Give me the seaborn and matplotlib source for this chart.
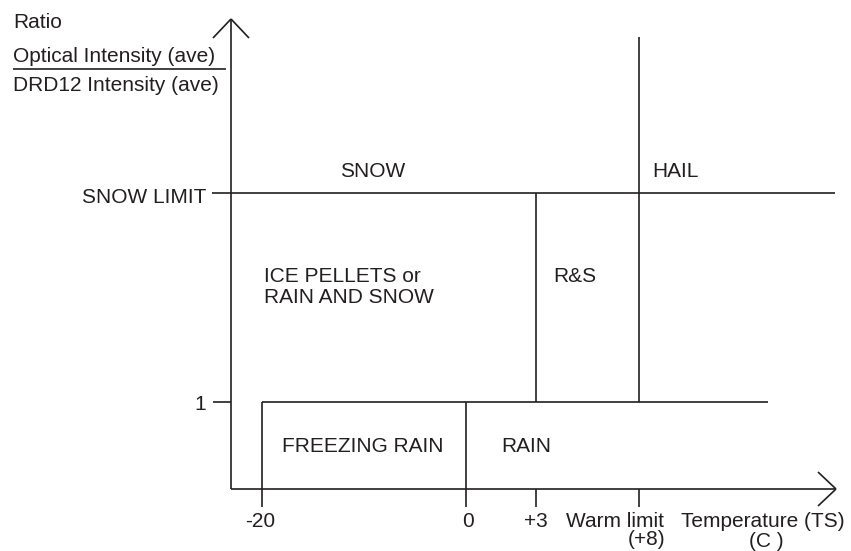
import matplotlib
matplotlib.use("Agg")
import matplotlib.pyplot as plt
import seaborn as sns

sns.set_theme(style="white")
plt.rcParams['font.family'] = ['Liberation Sans', 'DejaVu Sans']

# ---- data (schematic classification diagram) ----
x_tick_labels = ["-20", "0", "+3", "Warm limit\n(+8)"]
y_tick_labels = ["1", "SNOW LIMIT"]
region_labels = ["SNOW", "HAIL", "ICE PELLETS or\nRAIN AND SNOW", "R&S", "FREEZING RAIN", "RAIN"]
x_axis_title = "Temperature (TS)\n(C )"
y_axis_title = ["Ratio", "Optical Intensity (ave)", "DRD12 Intensity (ave)"]

# ---- layout (schematic, pixel-like coordinates) ----
W, H = 851, 551
X0, Y0 = 231, 489          # origin
XT = [262, 466, 536, 639]  # schematic positions of x ticks
YT = [402, 193]            # schematic positions of y ticks
col = "#231f20"
lw = 1.2
fs = 15
dy = 1.5  # shift so that cap height (not text box) is centred

fig = plt.figure(figsize=(W / 100, H / 100), dpi=100)
ax = fig.add_axes([0, 0, 1, 1])
ax.set_xlim(0, W)
ax.set_ylim(H, 0)
ax.axis("off")

def seg(x1, y1, x2, y2):
    ax.plot([x1, x2], [y1, y2], color=col, lw=lw, solid_capstyle="butt")

def txt(x, y, s, ha="center"):
    ax.text(x, y + dy, s, fontsize=fs, color=col, ha=ha, va="center")

# axes with arrows
seg(X0, Y0, X0, 19)
seg(X0, 19, 213, 38)
seg(X0, 19, 249, 38)
seg(X0, Y0, 836, Y0)
seg(836, Y0, 818, 472)
seg(836, Y0, 818, 506)

# y ticks
seg(213, YT[0], X0, YT[0])
seg(212, YT[1], X0, YT[1])

# x ticks
for xt in XT:
    seg(xt, Y0, xt, 507)

# region boundaries
seg(X0, YT[1], 835, YT[1])        # snow limit line
seg(XT[0], YT[0], 768, YT[0])     # ratio = 1 line
seg(XT[0], YT[0], XT[0], Y0)      # -20 boundary
seg(XT[1], YT[0], XT[1], Y0)      # 0 boundary
seg(XT[2], YT[1], XT[2], YT[0])   # +3 boundary
seg(XT[3], 37, XT[3], YT[0])      # warm limit boundary

# y axis title with fraction bar
txt(13, 21, y_axis_title[0], ha="left")
txt(13, 55, y_axis_title[1], ha="left")
seg(13, 69, 226, 69)
txt(13, 84, y_axis_title[2], ha="left")

# y tick labels
txt(206, YT[0] + 1, y_tick_labels[0], ha="right")
txt(206, YT[1] + 3, y_tick_labels[1], ha="right")

# x tick labels
txt(260, 520, x_tick_labels[0])
txt(468, 520, x_tick_labels[1])
txt(536, 520, x_tick_labels[2])
wl, p8 = x_tick_labels[3].split("\n")
txt(615, 520, wl)
txt(647, 538, p8)

tt, tc = x_axis_title.split("\n")
txt(763, 520, tt)
txt(766, 540, tc)

# region labels
txt(373, 170, region_labels[0])
txt(652, 170, region_labels[1], ha="left")
l1, l2 = region_labels[2].split("\n")
txt(264, 274.5, l1, ha="left")
txt(264, 296, l2, ha="left")
txt(575, 274.5, region_labels[3])
txt(363, 445.5, region_labels[4])
txt(526, 445.5, region_labels[5])

fig.savefig("out.png", dpi=100)
